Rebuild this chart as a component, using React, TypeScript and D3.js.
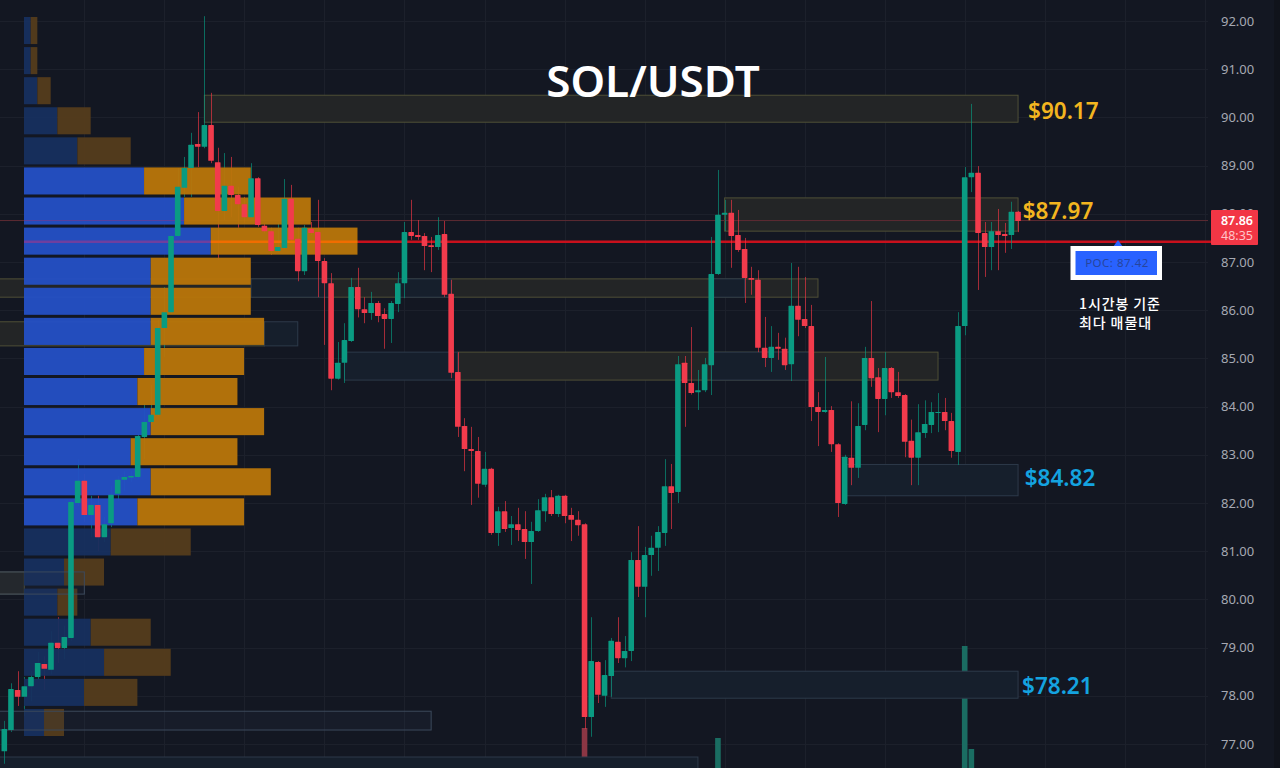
import React, { useEffect, useRef } from 'react';
import * as d3 from 'd3';

const priceTicks = [92, 91, 90, 89, 88, 87, 86, 85, 84, 83, 82, 81, 80, 79, 78, 77];

const opens = [
  76.85, 77.29, 78.12, 77.98, 78.2, 78.39, 78.66, 78.54, 79.1, 78.99,
  79.2, 82.0, 82.46, 81.75, 81.96, 81.29, 81.58, 82.19, 82.48, 82.53,
  82.54, 83.37, 83.68, 83.83, 85.63, 85.96, 87.54, 88.54, 88.95, 89.45,
  89.39, 89.84, 89.07, 88.06, 88.58, 88.39, 88.2, 87.93, 88.74, 87.75,
  87.64, 87.23, 87.29, 88.31, 87.48, 86.81, 87.69, 87.62, 87.02, 86.56,
  84.58, 84.91, 85.36, 86.48, 86.02, 85.94, 86.15, 85.92, 85.82, 86.13,
  86.56, 87.62, 87.56, 87.54, 87.35, 87.31, 87.58, 86.34, 84.72, 83.6,
  83.12, 83.08, 82.38, 82.71, 81.38, 81.83, 81.48, 81.56, 81.46, 81.19,
  81.42, 81.83, 82.12, 81.77, 82.15, 81.75, 81.65, 81.56, 77.56, 78.7,
  78.0, 78.41, 79.12, 78.78, 78.93, 80.82, 80.26, 80.92, 81.07, 81.38,
  82.35, 82.23, 84.91, 84.49, 84.3, 84.34, 84.86, 86.75, 87.98, 88.02,
  87.56, 87.27, 86.67, 86.63, 85.22, 85.01, 85.24, 85.2, 84.88, 86.09,
  85.82, 85.67, 83.99, 83.89, 83.93, 83.22, 81.98, 82.94, 82.73, 83.62,
  85.01, 84.61, 84.16, 84.8, 84.3, 84.24, 83.29, 82.94, 83.45, 83.62,
  83.87, 83.89, 83.7, 83.06, 85.67, 88.76, 88.85, 87.6, 87.31, 87.64,
  87.58, 87.56, 88.04,
];

const closes = [
  77.31, 78.14, 77.98, 78.2, 78.39, 78.68, 78.56, 79.1, 78.99, 79.22,
  82.02, 82.46, 81.75, 81.96, 81.29, 81.56, 82.17, 82.48, 82.54, 82.56,
  83.39, 83.68, 83.83, 85.63, 85.96, 87.54, 88.56, 88.95, 89.43, 89.39,
  89.84, 89.1, 88.06, 88.58, 88.39, 88.2, 87.93, 88.74, 87.77, 87.64,
  87.23, 87.31, 88.31, 87.46, 86.81, 87.71, 87.6, 87.02, 86.56, 84.58,
  84.91, 85.38, 86.48, 86.02, 85.94, 86.15, 85.88, 85.82, 86.15, 86.56,
  87.62, 87.54, 87.52, 87.33, 87.31, 87.56, 86.32, 84.7, 83.58, 83.12,
  83.08, 82.4, 82.71, 81.38, 81.83, 81.46, 81.56, 81.44, 81.19, 81.42,
  81.85, 82.12, 81.77, 82.15, 81.73, 81.65, 81.54, 77.56, 78.72, 78.02,
  78.43, 79.14, 78.78, 78.93, 80.82, 80.26, 80.92, 81.07, 81.4, 82.35,
  82.21, 84.88, 84.49, 84.28, 84.34, 84.88, 86.75, 87.98, 88.02, 87.54,
  87.25, 86.67, 86.63, 85.22, 85.01, 85.24, 85.2, 84.86, 86.09, 85.8,
  85.67, 83.99, 83.89, 83.93, 83.22, 82.0, 82.96, 82.73, 83.6, 85.01,
  84.59, 84.16, 84.8, 84.3, 84.22, 83.27, 82.94, 83.47, 83.64, 83.89,
  83.89, 83.7, 83.08, 85.67, 88.76, 88.85, 87.6, 87.31, 87.64, 87.56,
  87.54, 88.04, 87.85,
];

const highs = [
  77.48, 78.26, 78.51, 78.39, 78.51, 78.91, 78.82, 79.34, 79.63, 79.45,
  82.06, 82.91, 82.6, 82.15, 82.15, 81.71, 82.35, 82.56, 82.66, 82.66,
  83.44, 84.07, 84.45, 85.8, 86.48, 87.56, 88.95, 89.18, 89.68, 90.11,
  92.1, 90.51, 89.37, 89.26, 89.18, 88.56, 88.35, 89.05, 88.76, 87.79,
  87.71, 87.81, 88.72, 88.6, 87.71, 87.77, 87.83, 88.29, 87.08, 86.77,
  85.34, 85.73, 86.67, 86.88, 86.27, 86.38, 86.19, 86.04, 86.19, 86.79,
  87.83, 88.29, 87.87, 87.6, 87.52, 87.93, 87.85, 86.63, 85.13, 83.76,
  83.58, 83.37, 83.06, 82.73, 81.92, 82.04, 81.73, 81.9, 81.83, 81.61,
  82.08, 82.19, 82.27, 82.17, 82.17, 81.9, 81.83, 81.58, 79.63, 78.72,
  78.74, 79.2, 79.63, 79.24, 80.98, 81.52, 81.09, 81.32, 81.52, 82.91,
  82.81, 85.05, 85.05, 85.65, 84.76, 85.01, 87.52, 88.91, 88.29, 88.29,
  88.08, 87.5, 86.9, 86.83, 85.86, 85.67, 85.53, 85.43, 86.98, 86.9,
  86.69, 86.11, 84.3, 85.03, 84.01, 83.24, 83.0, 84.11, 84.07, 85.24,
  86.19, 84.8, 85.13, 84.82, 84.72, 84.26, 83.73, 84.05, 84.13, 84.09,
  84.28, 84.18, 83.87, 85.96, 88.97, 90.28, 88.99, 87.83, 87.83, 88.1,
  87.81, 88.25, 88.06,
];

const lows = [
  76.59, 77.25, 77.79, 77.58, 77.89, 78.35, 78.12, 78.45, 78.68, 78.76,
  79.14, 81.94, 81.61, 81.29, 81.0, 81.19, 81.5, 82.04, 82.25, 82.44,
  82.5, 82.91, 83.62, 83.8, 85.03, 85.93, 87.52, 88.35, 88.35, 88.97,
  89.36, 89.05, 87.04, 87.87, 87.93, 87.71, 87.81, 87.91, 87.73, 87.6,
  87.15, 87.21, 87.27, 87.41, 86.6, 86.73, 87.56, 86.27, 85.28, 84.34,
  84.56, 84.49, 85.34, 85.85, 85.73, 85.8, 85.75, 85.2, 85.32, 85.96,
  86.25, 87.46, 87.46, 86.83, 86.79, 87.25, 86.27, 84.59, 83.37, 82.66,
  81.96, 82.11, 82.33, 81.34, 81.11, 81.4, 81.13, 81.21, 80.84, 80.32,
  81.4, 81.61, 81.73, 81.71, 81.58, 81.21, 81.32, 77.31, 77.15, 77.85,
  77.77, 77.98, 78.68, 78.59, 78.72, 80.05, 79.63, 80.49, 80.59, 81.11,
  81.46, 82.0, 83.58, 84.25, 83.93, 84.3, 84.24, 86.73, 87.64, 86.88,
  87.21, 86.15, 86.32, 85.13, 84.82, 84.72, 84.97, 84.76, 84.53, 85.46,
  85.63, 83.7, 83.18, 83.87, 83.06, 81.71, 81.96, 82.37, 82.52, 83.51,
  84.41, 83.47, 83.82, 84.18, 84.18, 82.95, 82.37, 82.37, 83.35, 83.45,
  83.47, 83.51, 82.94, 82.79, 85.48, 88.45, 86.42, 86.69, 86.83, 86.83,
  87.19, 87.27, 87.62,
];

// volume profile, top row first
const buyVolume = [1, 1, 2, 5, 8, 18, 24, 28, 19, 19, 19, 18, 17, 19, 16, 19, 17, 13, 6, 5, 10, 12, 9, 3];
const sellVolume = [1, 1, 2, 5, 8, 16, 19, 22, 15, 15, 17, 15, 15, 17, 16, 18, 16, 12, 6, 3, 9, 10, 8, 3];
const valueAreaFirst = 5;
const valueAreaLast = 16;
const pocRow = 7;

const volumeBarIndex = [10, 87, 107, 144, 145];
const volumeBarValue = [8, 40, 30, 122, 19];
const volumeBarUp = [true, false, true, true, true];

// [first bar, last bar, top price, bottom price]
type Zone = [number, number, number, number];
const supplyZones: Zone[] = [
  [30, 152, 90.46, 89.9],
  [108, 152, 88.33, 87.64],
  [-1, 122, 86.65, 86.27],
  [68, 140, 85.13, 84.55],
  [-1, 39, 85.76, 85.26],
  [-1, 3, 80.57, 80.11],
];
const demandZones: Zone[] = [
  [37, 49, 86.65, 86.27],
  [59, 67, 86.65, 86.27],
  [106, 111, 86.65, 86.27],
  [51, 68, 85.13, 84.55],
  [106, 121, 85.13, 84.55],
  [39, 44, 85.76, 85.26],
  [126, 152, 82.8, 82.15],
  [91, 152, 78.51, 77.95],
  [-1, 104, 76.73, 76.36],
];
const overlayZones: Zone[] = [
  [-1, 12, 80.57, 80.11],
  [-1, 64, 77.68, 77.29],
];

const levelLabels = ['$90.17', '$87.97', '$84.82', '$78.21'];
const levelPrices = [90.13, 88.05, 82.51, 78.21];
const levelBars = [153.5, 152.7, 153, 152.6];
const levelColors = ['#f2b51f', '#f2b51f', '#14a3e0', '#14a3e0'];

const lastPrice = 87.86;
const pocPrice = 87.42;

const App: React.FC = () => {
  const containerRef = useRef<HTMLDivElement>(null);

  useEffect(() => {
    if (containerRef && containerRef.current) {
      document.body.style.margin = '0';
      containerRef.current.innerHTML = '';
      drawChart(containerRef.current);
    }
  }, [containerRef]);

  return <div ref={containerRef}></div>;
};

const drawChart = (container: HTMLDivElement) => {
  const width = 1280;
  const height = 768;
  const plotRight = 1208;

  const svg = d3
    .select(container)
    .append('svg')
    .attr('width', width)
    .attr('height', height)
    .style('display', 'block')
    .style('background', '#131722');

  const y = d3.scaleLinear().domain([92, 77]).range([21, 744]);
  const x = d3.scaleLinear().domain([0, 180]).range([4.3, 1204.8]);
  const profileX = d3.scaleLinear().domain([0, 1]).range([24, 30.67]);
  const rowY = d3
    .scaleBand<number>()
    .domain(d3.range(buyVolume.length))
    .range([17, 736])
    .paddingInner(0.1);
  const volumeY = d3.scaleLinear().domain([0, 122]).range([768, 646]);

  const bars = d3.range(opens.length);

  // grid
  const grid = svg.append('g').attr('stroke', '#1c202b').attr('stroke-width', 1);
  grid
    .selectAll('line.h')
    .data(priceTicks)
    .enter()
    .append('line')
    .attr('x1', 0)
    .attr('x2', plotRight)
    .attr('y1', (d) => Math.round(y(d)) + 0.5)
    .attr('y2', (d) => Math.round(y(d)) + 0.5);
  grid
    .selectAll('line.v')
    .data(d3.range(12, 181, 12))
    .enter()
    .append('line')
    .attr('x1', (d) => Math.round(x(d)) + 0.5)
    .attr('x2', (d) => Math.round(x(d)) + 0.5)
    .attr('y1', 0)
    .attr('y2', height);

  // faded volume bars along the bottom
  svg
    .append('g')
    .selectAll('rect')
    .data(volumeBarIndex)
    .enter()
    .append('rect')
    .attr('x', (d) => x(d) - 2.8)
    .attr('width', 5.6)
    .attr('y', (d, i) => volumeY(volumeBarValue[i]))
    .attr('height', (d, i) => 768 - volumeY(volumeBarValue[i]))
    .attr('fill', (d, i) => (volumeBarUp[i] ? '#1a6d62' : '#8c3644'));

  const drawZones = (zones: Zone[], fill: string, stroke: string, opacity: number) => {
    svg
      .append('g')
      .selectAll('rect')
      .data(zones)
      .enter()
      .append('rect')
      .attr('x', (d) => x(d[0]))
      .attr('width', (d) => x(d[1]) - x(d[0]))
      .attr('y', (d) => y(d[2]))
      .attr('height', (d) => y(d[3]) - y(d[2]))
      .attr('fill', fill)
      .attr('fill-opacity', opacity)
      .attr('stroke', stroke)
      .attr('stroke-width', 1);
  };

  drawZones(supplyZones, '#232526', '#4f4f36', 1);
  drawZones(demandZones, '#161f2c', '#2d3a4a', 1);

  // last price and POC lines
  svg
    .append('line')
    .attr('x1', 0)
    .attr('x2', plotRight)
    .attr('y1', y(lastPrice))
    .attr('y2', y(lastPrice))
    .attr('stroke', '#5e2a33')
    .attr('stroke-width', 1);
  svg
    .append('line')
    .attr('x1', profileX(buyVolume[pocRow] + sellVolume[pocRow]))
    .attr('x2', plotRight + 4)
    .attr('y1', y(pocPrice))
    .attr('y2', y(pocPrice))
    .attr('stroke', '#c8101c')
    .attr('stroke-width', 2.4);

  // wicks
  svg
    .append('g')
    .selectAll('line')
    .data(bars)
    .enter()
    .append('line')
    .attr('x1', (d) => Math.round(x(d)) + 0.5)
    .attr('x2', (d) => Math.round(x(d)) + 0.5)
    .attr('y1', (d) => y(highs[d]))
    .attr('y2', (d) => y(lows[d]))
    .attr('stroke', (d) => (closes[d] >= opens[d] ? '#089981' : '#f23645'))
    .attr('stroke-opacity', 0.65)
    .attr('stroke-width', 1);

  // volume profile
  const inValueArea = (i: number) => i >= valueAreaFirst && i <= valueAreaLast;
  const profile = svg.append('g').attr('opacity', 0.95);
  profile
    .selectAll('rect.buy')
    .data(buyVolume)
    .enter()
    .append('rect')
    .attr('x', profileX(0))
    .attr('width', (d) => profileX(d) - profileX(0))
    .attr('y', (d, i) => rowY(i) as number)
    .attr('height', rowY.bandwidth())
    .attr('fill', (d, i) => (inValueArea(i) ? '#2450c6' : '#17305f'));
  profile
    .selectAll('rect.sell')
    .data(sellVolume)
    .enter()
    .append('rect')
    .attr('x', (d, i) => profileX(buyVolume[i]))
    .attr('width', (d) => profileX(d) - profileX(0))
    .attr('y', (d, i) => rowY(i) as number)
    .attr('height', rowY.bandwidth())
    .attr('fill', (d, i) => (inValueArea(i) ? '#ba760a' : '#553c1c'));

  drawZones(overlayZones, '#2a3a50', '#3c4a5c', 0.18);

  // POC and last price seen through the profile
  svg
    .append('line')
    .attr('x1', profileX(0))
    .attr('x2', profileX(buyVolume[pocRow]))
    .attr('y1', y(pocPrice))
    .attr('y2', y(pocPrice))
    .attr('stroke', '#6f3f9f')
    .attr('stroke-width', 2.4);
  svg
    .append('line')
    .attr('x1', profileX(buyVolume[pocRow]))
    .attr('x2', profileX(buyVolume[pocRow] + sellVolume[pocRow]))
    .attr('y1', y(pocPrice))
    .attr('y2', y(pocPrice))
    .attr('stroke', '#f06d00')
    .attr('stroke-width', 2.4);
  svg
    .append('line')
    .attr('x1', profileX(0))
    .attr('x2', profileX(buyVolume[6]))
    .attr('y1', y(lastPrice))
    .attr('y2', y(lastPrice))
    .attr('stroke', '#5c419c')
    .attr('stroke-width', 1);

  // candle bodies
  svg
    .append('g')
    .selectAll('rect')
    .data(bars)
    .enter()
    .append('rect')
    .attr('x', (d) => x(d) - 2.8)
    .attr('width', 5.6)
    .attr('y', (d) => y(Math.max(opens[d], closes[d])))
    .attr('height', (d) => Math.max(1, Math.abs(y(opens[d]) - y(closes[d]))))
    .attr('rx', 0.6)
    .attr('fill', (d) => (closes[d] >= opens[d] ? '#0a9b82' : '#f23b4c'));

  // right price axis
  const axisG = svg
    .append('g')
    .attr('transform', 'translate(1221, 0)')
    .call(
      d3
        .axisRight(y)
        .tickValues(priceTicks)
        .tickSize(0)
        .tickPadding(0)
        .tickFormat(d3.format('.2f') as any)
    );
  axisG.select('.domain').remove();
  axisG
    .selectAll('text')
    .attr('fill', '#a6a9b2')
    .style('font-family', '"Noto Sans", sans-serif')
    .style('font-size', '13px');

  svg
    .append('rect')
    .attr('x', 1274)
    .attr('y', 0)
    .attr('width', 6)
    .attr('height', height)
    .attr('fill', '#10131b');

  // last price tag
  const tagY = y(lastPrice);
  svg
    .append('rect')
    .attr('x', 1211)
    .attr('y', tagY - 10.5)
    .attr('width', 47)
    .attr('height', 35)
    .attr('rx', 1)
    .attr('fill', '#f23645');
  svg
    .append('text')
    .attr('x', 1237)
    .attr('y', tagY + 4)
    .attr('text-anchor', 'middle')
    .attr('fill', '#ffffff')
    .style('font-family', '"Noto Sans", sans-serif')
    .style('font-size', '12.5px')
    .style('font-weight', 600)
    .text('87.86');
  svg
    .append('text')
    .attr('x', 1237)
    .attr('y', tagY + 19.5)
    .attr('text-anchor', 'middle')
    .attr('fill', '#ffc4ca')
    .style('font-family', '"Noto Sans", sans-serif')
    .style('font-size', '12.5px')
    .text('48:35');

  // level labels
  svg
    .append('g')
    .selectAll('text')
    .data(levelLabels)
    .enter()
    .append('text')
    .attr('x', (d, i) => x(levelBars[i]))
    .attr('y', (d, i) => y(levelPrices[i]) + 8)
    .attr('fill', (d, i) => levelColors[i])
    .style('font-family', '"Noto Sans", sans-serif')
    .style('font-size', '22.5px')
    .style('font-weight', 600)
    .text((d) => d);

  // title
  svg
    .append('text')
    .attr('x', 653)
    .attr('y', 97)
    .attr('text-anchor', 'middle')
    .attr('fill', '#ffffff')
    .style('font-family', '"Noto Sans", sans-serif')
    .style('font-size', '44px')
    .style('font-weight', 600)
    .text('SOL/USDT');

  // POC callout
  svg
    .append('path')
    .attr('d', d3.line()([[1113, 247], [1118, 240], [1123, 247]]) as string)
    .attr('fill', '#2962ff');
  svg
    .append('rect')
    .attr('x', 1073)
    .attr('y', 248.5)
    .attr('width', 86.5)
    .attr('height', 29)
    .attr('fill', '#2962ff')
    .attr('stroke', '#ffffff')
    .attr('stroke-width', 5);
  svg
    .append('text')
    .attr('x', 1117)
    .attr('y', 267)
    .attr('text-anchor', 'middle')
    .attr('fill', '#27459c')
    .style('font-family', '"Noto Sans", sans-serif')
    .style('font-size', '11.5px')
    .style('letter-spacing', '0.5px')
    .text('POC: 87.42');

  const note = svg
    .append('g')
    .attr('fill', '#ffffff')
    .style('font-family', '"Noto Sans CJK KR", sans-serif')
    .style('font-size', '14px')
    .style('font-weight', 500)
    .style('letter-spacing', '0.9px');
  note.append('text').attr('x', 1079).attr('y', 309).text('1시간봉 기준');
  note.append('text').attr('x', 1079).attr('y', 328).text('최다 매물대');
};

export default App;
